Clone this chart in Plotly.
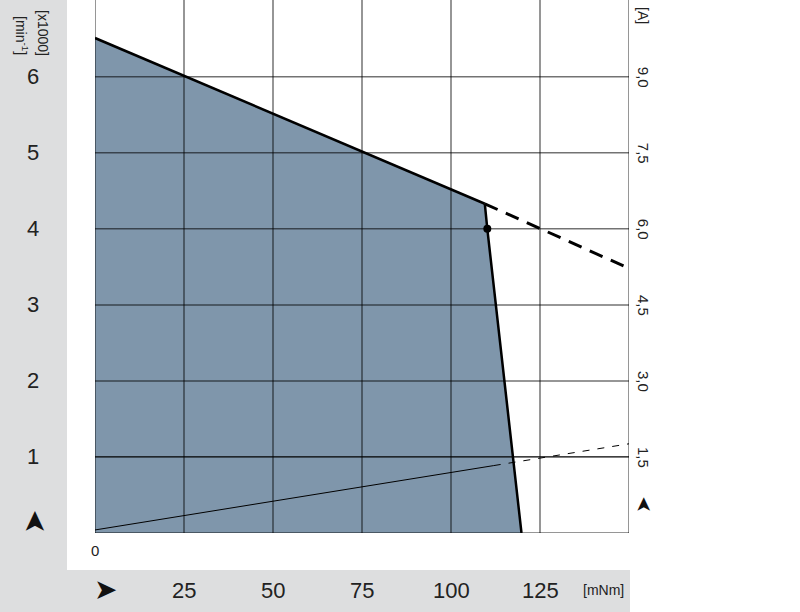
import plotly.graph_objects as go

# ---- data ----
torque_fill = [0, 0, 109.5, 110.2, 119.8]
speed_fill = [0, 6.51, 4.33, 4.0, 0]
torque_speed_solid = [0, 109.5]
speed_solid = [6.51, 4.33]
torque_speed_dash = [109.5, 150]
speed_dash = [4.33, 3.48]
torque_drop = [109.5, 110.2, 119.8]
speed_drop = [4.33, 4.0, 0]
torque_point = [110.2]
speed_point = [4.0]
torque_current_solid = [0, 112]
current_solid = [0.06, 1.33]
torque_current_dash = [112, 150]
current_dash = [1.33, 1.76]

x_ticks = [25, 50, 75, 100, 125]
x_grid = [0, 25, 50, 75, 100, 125, 150]
y_ticks = [1, 2, 3, 4, 5, 6]
y2_ticks = [1.5, 3.0, 4.5, 6.0, 7.5, 9.0]
y2_labels = ["1,5", "3,0", "4,5", "6,0", "7,5", "9,0"]

FONT = "Liberation Sans Narrow, Arial Narrow, Liberation Sans, sans-serif"
FILL = "rgb(127,150,171)"
GREY = "rgb(221,222,223)"
GRID = "rgba(0,0,0,0.55)"

fig = go.Figure()
fig.add_trace(go.Scatter(x=torque_fill, y=speed_fill, fill="toself", fillcolor=FILL,
                         line=dict(width=0), mode="lines", hoverinfo="skip"))
fig.add_trace(go.Scatter(x=torque_current_solid, y=current_solid, mode="lines", yaxis="y2",
                         line=dict(color="black", width=1)))
fig.add_trace(go.Scatter(x=torque_current_dash, y=current_dash, mode="lines", yaxis="y2",
                         line=dict(color="black", width=1, dash="7px,8px")))
fig.add_trace(go.Scatter(x=torque_speed_solid, y=speed_solid, mode="lines",
                         line=dict(color="black", width=2.5)))
fig.add_trace(go.Scatter(x=torque_speed_dash, y=speed_dash, mode="lines",
                         line=dict(color="black", width=3, dash="14px,9px")))
fig.add_trace(go.Scatter(x=torque_drop, y=speed_drop, mode="lines",
                         line=dict(color="black", width=2.5)))
fig.add_trace(go.Scatter(x=torque_point, y=speed_point, mode="markers",
                         marker=dict(color="black", size=8)))

# grey panels (paper coords relative to plot area: x 95..629 px, y 0..533 px)
W, H = 534.0, 533.0
def px_x(p):
    return (p - 95) / W
def px_y(p):
    return (533 - p) / H

fig.add_shape(type="rect", xref="paper", yref="paper", x0=px_x(0), x1=px_x(67),
              y0=px_y(570), y1=px_y(0), fillcolor=GREY, line=dict(width=0), layer="below")
fig.add_shape(type="rect", xref="paper", yref="paper", x0=px_x(0), x1=px_x(630),
              y0=px_y(612), y1=px_y(570), fillcolor=GREY, line=dict(width=0), layer="below")
# grid drawn above the filled area
for v in x_grid:
    fig.add_shape(type="line", xref="x", yref="paper", x0=v, x1=v, y0=0, y1=1,
                  line=dict(color=GRID, width=1.5), layer="above")
fig.add_shape(type="line", xref="paper", yref="y", x0=0, x1=1, y0=0, y1=0,
              line=dict(color=GRID, width=1.5), layer="above")
for v in y_ticks:
    fig.add_shape(type="line", xref="paper", yref="y", x0=0, x1=1, y0=v, y1=v,
                  line=dict(color="black" if v == 1 else GRID, width=1.3 if v == 1 else 1.5),
                  layer="above")

ann = []
def add(**kw):
    kw.setdefault("showarrow", False)
    kw.setdefault("xanchor", "center")
    kw.setdefault("yanchor", "middle")
    ann.append(kw)

for v in y_ticks:
    add(x=px_x(33), xref="paper", y=v, yref="y", text=str(v),
        font=dict(size=22, color="#222", family=FONT))
add(x=px_x(34), xref="paper", y=px_y(522), yref="paper", text="➤", textangle=-90,
    font=dict(size=29, color="#111", family="DejaVu Sans"))
for v, t in zip(y2_ticks, y2_labels):
    add(x=px_x(643), xref="paper", y=v, yref="y2", text=t, textangle=90,
        font=dict(size=15, color="#222", family=FONT))
add(x=px_x(643), xref="paper", y=px_y(505), yref="paper", text="➤", textangle=-90,
    font=dict(size=20, color="#111", family="DejaVu Sans"))
add(x=px_x(643), xref="paper", y=px_y(15), yref="paper", text="[A]", textangle=90,
    font=dict(size=14, color="#222", family=FONT))
add(x=px_x(22), xref="paper", y=px_y(35), yref="paper", text="[min<sup>-1</sup>]", textangle=90,
    font=dict(size=14, color="#222", family=FONT))
add(x=px_x(43), xref="paper", y=px_y(33), yref="paper", text="[x1000]", textangle=90,
    font=dict(size=14, color="#222", family=FONT))
for v in x_ticks:
    add(x=v, xref="x", y=px_y(590), yref="paper", text=str(v),
        font=dict(size=22, color="#222", family=FONT))
add(x=0, xref="x", y=px_y(550), yref="paper", text="0",
    font=dict(size=15, color="#222", family=FONT))
add(x=px_x(105), xref="paper", y=px_y(589), yref="paper", text="➤",
    font=dict(size=28, color="#111", family="DejaVu Sans"))
add(x=px_x(603), xref="paper", y=px_y(590), yref="paper", text="[mNm]",
    font=dict(size=14, color="#222", family=FONT))

fig.update_layout(
    width=800, height=612,
    margin=dict(l=95, r=171, t=0, b=79, pad=0),
    paper_bgcolor="white", plot_bgcolor="white",
    showlegend=False,
    annotations=ann,
    xaxis=dict(range=[0, 150], showgrid=False, showticklabels=False, ticks="",
               zeroline=False, showline=False),
    yaxis=dict(range=[0, 7.01], showgrid=False, showticklabels=False, ticks="",
               zeroline=False, showline=False),
    yaxis2=dict(range=[0, 10.515], overlaying="y", side="right", showgrid=False,
                showticklabels=False, ticks="", zeroline=False, showline=False),
)

fig.write_html("out.html", config={"displayModeBar": False},
               post_script="document.body.style.margin='0';document.body.style.padding='0';")
